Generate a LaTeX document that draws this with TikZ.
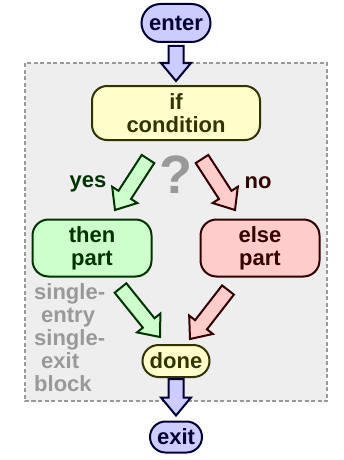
\documentclass[tikz,border=0pt]{standalone}
\usepackage{fontspec}
\setmainfont{Liberation Sans}
\usetikzlibrary{calc}

\definecolor{blueFill}{HTML}{CCCCFF}
\definecolor{blueLine}{HTML}{000033}
\definecolor{yellowFill}{HTML}{FFFFCC}
\definecolor{yellowLine}{HTML}{333300}
\definecolor{greenFill}{HTML}{CCFFCC}
\definecolor{greenLine}{HTML}{003300}
\definecolor{redFill}{HTML}{FFCCCC}
\definecolor{redLine}{HTML}{330000}
\definecolor{blockFill}{HTML}{EEEEEE}
\definecolor{blockLine}{HTML}{999999}

\tikzset{
  box/.style={draw, line width=2pt, align=center, inner sep=0pt,
    font=\fontsize{22}{23}\selectfont\bfseries},
  bluebox/.style={box, fill=blueFill, draw=blueLine, text=blueLine},
  yellowbox/.style={box, fill=yellowFill, draw=yellowLine, text=yellowLine},
  greenbox/.style={box, fill=greenFill, draw=greenLine, text=greenLine},
  redbox/.style={box, fill=redFill, draw=redLine, text=redLine},
  label/.style={inner sep=0pt, font=\fontsize{22}{23}\selectfont\bfseries},
  fatblue/.style={fill=blueFill, draw=blueLine, line width=2pt, miter limit=4},
  fatgreen/.style={fill=greenFill, draw=greenLine, line width=2pt, miter limit=4},
  fatred/.style={fill=redFill, draw=redLine, line width=2pt, miter limit=4}
}

% block arrow: style, tail, tip
\newcommand{\fatarrow}[3]{%
  \coordinate (fa-s) at (#2);
  \coordinate (fa-e) at (#3);
  \coordinate (fa-b) at ($(fa-e)!18pt!(fa-s)$);
  \draw[#1] ($(fa-s)!7.5pt!90:(fa-e)$) -- ($(fa-b)!7.5pt!-90:(fa-s)$)
    -- ($(fa-b)!15pt!-90:(fa-s)$) -- (fa-e) -- ($(fa-b)!15pt!90:(fa-s)$)
    -- ($(fa-b)!7.5pt!90:(fa-s)$) -- ($(fa-s)!7.5pt!-90:(fa-e)$) -- cycle;
}

\begin{document}
\begin{tikzpicture}[x=1pt, y=-1pt]
    \useasboundingbox (0,0) rectangle (344,460);

    % the single-entry single-exit block
    \draw[fill=blockFill, draw=blockLine, line width=2pt, dash pattern=on 4pt off 2.5pt] (25,63) rectangle (327,401);

    \node[bluebox, minimum width=69pt, minimum height=38pt, rounded corners=19pt] (enter) at (176,23) {enter};
    \node[yellowbox, minimum width=168pt, minimum height=54pt, rounded corners=15pt] (if) at (176,113) {if\\condition};
    \node[greenbox, minimum width=119pt, minimum height=57pt, rounded corners=16pt] (then) at (92,248) {then\\part};
    \node[redbox, minimum width=119pt, minimum height=57pt, rounded corners=16pt] (else) at (260,248) {else\\part};
    \node[yellowbox, minimum width=67pt, minimum height=32pt, rounded corners=16pt] (done) at (176,361) {done};
    \node[bluebox, minimum width=52pt, minimum height=31pt, rounded corners=15.5pt] (exit) at (176,437) {exit};

    \node[label, text=greenLine] (yes) at (88,184) {yes};
    \node[label, text=redLine] (no) at (258,183) {no};
    \node[inner sep=0pt, text=blockLine, font=\fontsize{54}{54}\selectfont\bfseries] (ask) at (176,175) {?};
    \node[label, text=blockLine, align=left, anchor=north west, font=\fontsize{22}{23.2}\selectfont\bfseries] (sese) at (34,283)
        {single-\\\hbox to 7pt{}entry\\single-\\\hbox to 7pt{}exit\\block};

    \fatarrow{fatblue}{$(enter.south)+(0,3)$}{$(if.north)+(0,-4)$}
    \fatarrow{fatgreen}{$(if.south)+(-28,18)$}{$(then.north)+(23,-8.5)$}
    \fatarrow{fatred}{$(if.south)+(26,18)$}{$(else.north)+(-25,-8.5)$}
    \fatarrow{fatgreen}{$(then.south)+(28.5,10.5)$}{$(done.north)+(-16,-7)$}
    \fatarrow{fatred}{$(else.south)+(-32,12.5)$}{$(done.north)+(14,-5)$}
    \fatarrow{fatblue}{$(done.south)+(0,1)$}{$(exit.north)+(0,-5)$}
\end{tikzpicture}
\end{document}
